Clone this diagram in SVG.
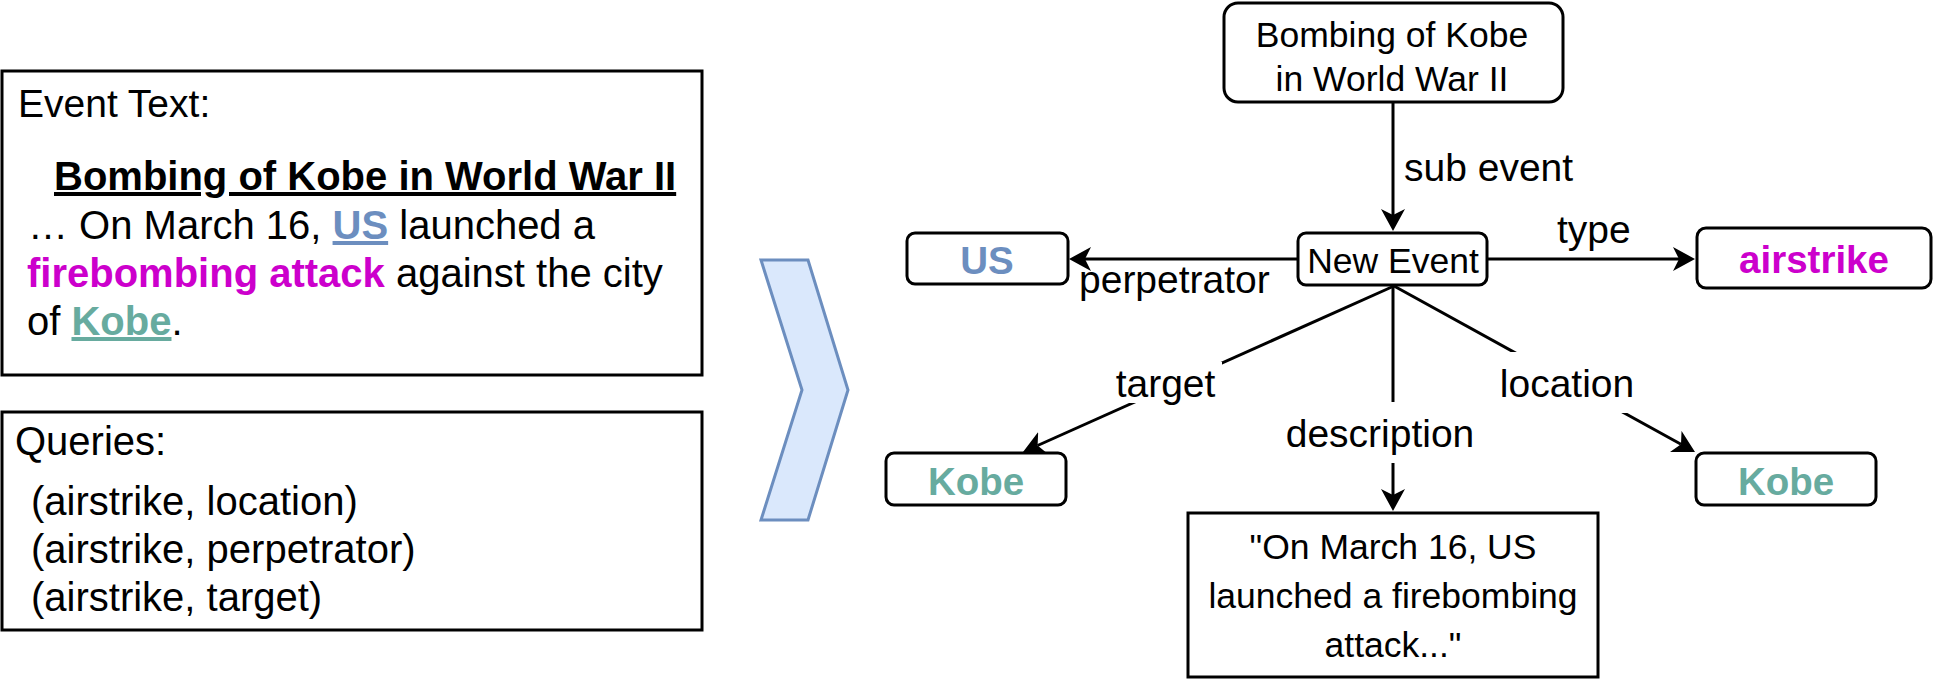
<svg xmlns="http://www.w3.org/2000/svg" width="1934" height="686" viewBox="0 0 1934 686">
<defs>
<style>
text{font-family:"Liberation Sans",Arial,Helvetica,sans-serif;fill:#000}
.box{fill:#fff;stroke:#000;stroke-width:3}
.edge{fill:none;stroke:#000;stroke-width:3}
.lbl{font-size:39px}
.nd{font-size:35.5px;text-anchor:middle}
.bd{font-size:38.5px;font-weight:bold;text-anchor:middle}
.lt{font-size:40px}
.blue{fill:#6c8ebf}
.mag{fill:#cc00cc}
.teal{fill:#67ab9f}
.bg{fill:#fff;stroke:none}
</style>
<marker id="arr" viewBox="0 0 24 24" markerWidth="24" markerHeight="24" refX="6" refY="12" markerUnits="userSpaceOnUse" orient="auto">
<path d="M0,0 L22,12 L0,24 L6,12 Z" fill="#000"/>
</marker>
</defs>
<rect width="1934" height="686" fill="#fff"/>

<g id="event-text">
<rect class="box" x="2" y="71" width="700" height="304"/>
<text class="lt" x="18" y="117" style="font-size:39px">Event Text:</text>
<text class="lt" x="54" y="190" font-weight="bold" text-decoration="underline">Bombing of Kobe in World War II</text>
<text class="lt" x="28" y="239">… On March 16, <tspan class="blue" font-weight="bold" text-decoration="underline">US</tspan> launched a</text>
<text class="lt" x="27" y="287"><tspan class="mag" font-weight="bold">firebombing attack</tspan> against the city</text>
<text class="lt" x="27" y="335">of <tspan class="teal" font-weight="bold" text-decoration="underline">Kobe</tspan>.</text>
</g>

<g id="queries">
<rect class="box" x="2" y="412" width="700" height="218"/>
<text class="lt" x="15" y="455">Queries:</text>
<text class="lt" x="31" y="515">(airstrike, location)</text>
<text class="lt" x="31" y="563">(airstrike, perpetrator)</text>
<text class="lt" x="31" y="611">(airstrike, target)</text>
</g>

<g id="chevron">
<polygon points="761,260 808,260 848,390 808,520 761,520 802,390" fill="#dae8fc" stroke="#6c8ebf" stroke-width="3"/>
</g>

<g id="connectors">
<line class="edge" x1="1393" y1="102" x2="1393" y2="215" marker-end="url(#arr)"/>
<line class="edge" x1="1298" y1="259" x2="1085" y2="259" marker-end="url(#arr)"/>
<line class="edge" x1="1487" y1="259" x2="1679" y2="259" marker-end="url(#arr)"/>
<line class="edge" x1="1394" y1="286" x2="1037.6" y2="445.5" marker-end="url(#arr)"/>
<line class="edge" x1="1393" y1="286" x2="1393" y2="495" marker-end="url(#arr)"/>
<line class="edge" x1="1394" y1="286" x2="1681" y2="444.3" marker-end="url(#arr)"/>
<rect class="bg" x="1110" y="362" width="112" height="41"/>
<rect class="bg" x="1282" y="402" width="195" height="61"/>
<rect class="bg" x="1496" y="352" width="142" height="61"/>
<text class="lbl" x="1404" y="181">sub event</text>
<text class="lbl" x="1079" y="293">perpetrator</text>
<text class="lbl" x="1557" y="243">type</text>
<text class="lbl" x="1165.5" y="397" text-anchor="middle">target</text>
<text class="lbl" x="1380" y="447" text-anchor="middle">description</text>
<text class="lbl" x="1567" y="397" text-anchor="middle">location</text>
</g>

<g id="node-bombing">
<rect class="box" x="1224" y="3" width="339" height="99" rx="14"/>
<text class="nd" x="1392" y="47">Bombing of Kobe</text>
<text class="nd" x="1392" y="91">in World War II</text>
</g>

<g id="node-new-event">
<rect class="box" x="1298" y="233" width="189" height="52" rx="8"/>
<text class="nd" x="1393" y="273">New Event</text>
</g>

<g id="node-us">
<rect class="box" x="907" y="233" width="161" height="51" rx="8"/>
<text class="bd blue" x="987" y="274">US</text>
</g>

<g id="node-airstrike">
<rect class="box" x="1697" y="228" width="234" height="60" rx="9"/>
<text class="bd mag" x="1814" y="273">airstrike</text>
</g>

<g id="node-kobe-target">
<rect class="box" x="886" y="453" width="180" height="52" rx="8"/>
<text class="bd teal" x="976" y="495">Kobe</text>
</g>

<g id="node-kobe-location">
<rect class="box" x="1696" y="453" width="180" height="52" rx="8"/>
<text class="bd teal" x="1786" y="495">Kobe</text>
</g>

<g id="node-description">
<rect class="box" x="1188" y="513" width="410" height="164"/>
<text class="nd" x="1393" y="559">"On March 16, US</text>
<text class="nd" x="1393" y="608">launched a firebombing</text>
<text class="nd" x="1393" y="657">attack..."</text>
</g>
</svg>
